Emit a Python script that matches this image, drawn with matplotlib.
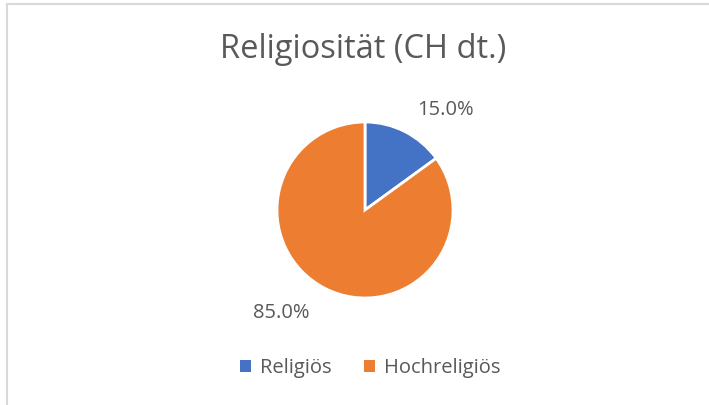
import matplotlib.pyplot as plt
from matplotlib.patches import Rectangle, Patch

categories = ['Religiös', 'Hochreligiös']
values = [15.0, 85.0]
colors = ['#4472C4', '#ED7D31']

plt.rcParams['font.family'] = ['Open Sans', 'DejaVu Sans']
text_color = '#595959'

fig = plt.figure(figsize=(7.09, 4.05), dpi=100)

# chart area border (only top/left visible in the crop)
fig.patches.append(Rectangle((7 / 709, -0.1), 1.1, 1.1 - 4 / 405, transform=fig.transFigure,
                             fill=False, edgecolor='#D9D9D9', linewidth=1.5))

fig.text(363 / 709, 1 - 50 / 405, 'Religiosität (CH dt.)', ha='center', va='center',
         fontsize=23.5, color=text_color)

ax = fig.add_axes([277 / 709, 1 - 298 / 405, 176 / 709, 176 / 405])
wedges, _ = ax.pie(values, colors=colors, startangle=90, counterclock=False,
                   wedgeprops=dict(edgecolor='white', linewidth=2))
ax.set_xlim(-1, 1)
ax.set_ylim(-1, 1)
ax.set_aspect('equal')

# data label positions (Excel best-fit placement)
label_pos = [(0.92, 1.14), (-0.95, -1.17)]
for v, (x, y) in zip(values, label_pos):
    ax.text(x, y, f'{v:.1f}%', ha='center', va='center', fontsize=14.5, color=text_color,
            clip_on=False)

handles = [Patch(facecolor=c, edgecolor='none') for c in colors]
fig.legend(handles, categories, loc='center', bbox_to_anchor=(370 / 709, 1 - 368 / 405),
           ncol=2, frameon=False, fontsize=14.5, handlelength=0.55, handleheight=0.55,
           handletextpad=0.45, columnspacing=1.6, labelcolor=text_color)

fig.savefig('out.png', dpi=100)
